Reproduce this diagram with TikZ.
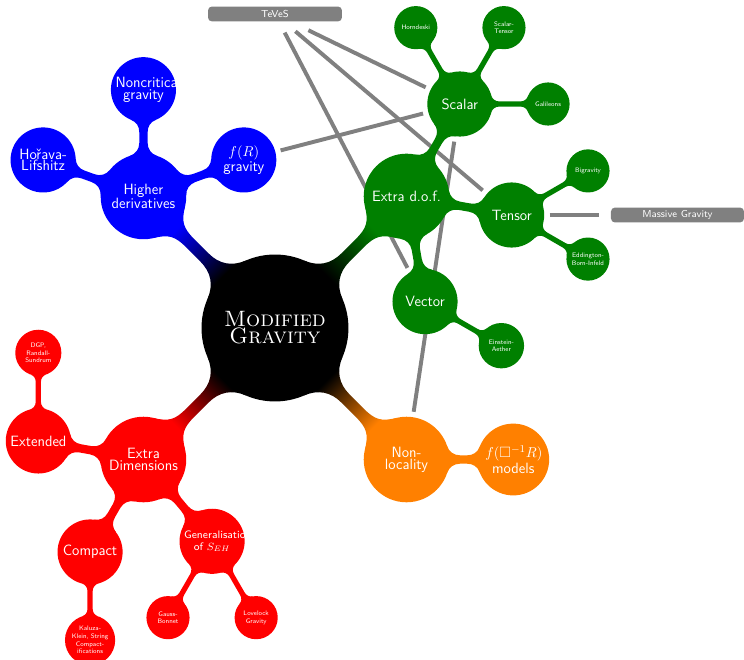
\documentclass[tikz,border=0pt]{standalone}
\usepackage{amssymb}
\usetikzlibrary{calc,backgrounds}
\definecolor{dgreen}{rgb}{0,0.5,0}
\definecolor{orng}{rgb}{1,0.5,0}
\colorlet{barto}{blue}
\pgfdeclareverticalshading[barto]{barshade}{100bp}{color(0bp)=(black); color(32bp)=(black); color(68bp)=(barto); color(100bp)=(barto)}
\tikzset{
  cpt/.style={circle, inner sep=0pt, align=center, text=white, font=\sffamily\fontsize{11.4}{9}\selectfont},
  rootc/.style={cpt, fill=black, minimum size=3.95cm, font=\fontsize{17}{13}\selectfont},
  lone/.style={cpt, minimum size=2.3cm},
  ltwo/.style={cpt, minimum size=1.75cm, text width=1.5cm},
  lthree/.style={cpt, minimum size=1.16cm, font=\sffamily\fontsize{5}{5.8}\selectfont},
  annot/.style={rectangle, rounded corners=3pt, fill=gray, text=white, inner sep=0pt, minimum width=3.6cm, minimum height=0.4cm, outer sep=5pt, font=\sffamily\fontsize{7.7}{9}\selectfont},
  link/.style={draw=gray, line width=3pt, shorten <=4pt, shorten >=4pt},
  rootbar/.style={shade, shading=barshade, shading angle=#1},
}
% connection bar with round fillets: [options]{from}{to}{r from}{r to}{half neck}{fillet radius}
\newcommand\cbar[7][]{%
  \path[#1] let \p1=(#2.center), \p2=(#3.center),
    \n1={atan2(\y2-\y1,\x2-\x1)},
    \n2={asin((#6+#7)/(#4+#7))}, \n3={asin((#6+#7)/(#5+#7))},
    \n4={sqrt((#4+#7)*(#4+#7)-(#6+#7)*(#6+#7))},
    \n5={sqrt((#5+#7)*(#5+#7)-(#6+#7)*(#6+#7))},
    \n6={0.45*#7}
  in ($(\p1)+(\n1+\n2:#4)$)
    .. controls +(\n1+\n2-90:\n6) and +(\n1+180:\n6) .. ($(\p1)+(\n1:\n4)+(\n1+90:#6)$)
    -- ($(\p2)+(\n1+180:\n5)+(\n1+90:#6)$)
    .. controls +(\n1:\n6) and +(\n1-90-\n3:\n6) .. ($(\p2)+(\n1+180-\n3:#5)$)
    -- ($(\p2)+(\n1+180+\n3:#5)$)
    .. controls +(\n1+90+\n3:\n6) and +(\n1:\n6) .. ($(\p2)+(\n1+180:\n5)+(\n1-90:#6)$)
    -- ($(\p1)+(\n1:\n4)+(\n1-90:#6)$)
    .. controls +(\n1+180:\n6) and +(\n1+90-\n2:\n6) .. ($(\p1)+(\n1-\n2:#4)$)
    -- cycle;}
\begin{document}
\begin{tikzpicture}
\useasboundingbox (-7.392,-8.925) rectangle (12.608,8.817);
% root and level 1
\node[rootc] (root) at (0,0) {\textsc{Modified}\\\textsc{Gravity}};
\node[lone, fill=blue] (hd) at (135:5cm) {Higher\\derivatives};
\node[lone, fill=dgreen] (edof) at (45:5cm) {Extra d.o.f.};
\node[lone, fill=red] (ed) at (225:5cm) {Extra\\Dimensions};
\node[lone, fill=orng] (nl) at (315:5cm) {Non-\\locality};
% level 2
\node[ltwo, fill=blue] (hl) at ($(hd)+(160:2.87cm)$) {Hořava-\\Lifshitz};
\node[ltwo, fill=blue] (nc) at ($(hd)+(90:2.87cm)$) {Noncritical\\gravity};
\node[ltwo, fill=blue] (fr) at ($(hd)+(20:2.87cm)$) {$f(R)$\\gravity};
\node[ltwo, fill=dgreen] (scalar) at ($(edof)+(60:2.87cm)$) {Scalar};
\node[ltwo, fill=dgreen] (tensor) at ($(edof)+(-10:2.87cm)$) {Tensor};
\node[ltwo, fill=dgreen] (vector) at ($(edof)+(-80:2.87cm)$) {Vector};
\node[ltwo, fill=red] (ext) at ($(ed)+(170:2.87cm)$) {Extended};
\node[ltwo, fill=red] (comp) at ($(ed)+(240:2.87cm)$) {Compact};
\node[ltwo, fill=red, font=\sffamily\fontsize{8.3}{9}\selectfont] (gen) at ($(ed)+(310:2.87cm)$) {Generalisation\\of $S_{EH}$};
\node[ltwo, fill=orng, minimum size=1.93cm] (fbox) at ($(nl)+(0:2.87cm)$) {$f(\Box^{-1}R)$\\models};
% level 3
\node[lthree, fill=dgreen] (horn) at ($(scalar)+(120:2.37cm)$) {Horndeski};
\node[lthree, fill=dgreen] (st) at ($(scalar)+(60:2.37cm)$) {Scalar-\\Tensor};
\node[lthree, fill=dgreen] (gal) at ($(scalar)+(0:2.37cm)$) {Galileons};
\node[lthree, fill=dgreen] (bigr) at ($(tensor)+(30:2.37cm)$) {Bigravity};
\node[lthree, fill=dgreen] (ebi) at ($(tensor)+(-30:2.37cm)$) {Eddington-\\Born-Infeld};
\node[lthree, fill=dgreen, minimum size=1.22cm] (ea) at ($(vector)+(-30:2.37cm)$) {Einstein-\\Aether};
\node[lthree, fill=red, minimum size=1.24cm] (dgp) at ($(ext)+(90:2.37cm)$) {DGP,\\Randall-\\Sundrum};
\node[lthree, fill=red, minimum size=1.35cm] (kk) at ($(comp)+(270:2.37cm)$) {Kaluza-\\Klein, String\\Compact-\\ifications};
\node[lthree, fill=red] (gb) at ($(gen)+(240:2.37cm)$) {Gauss-\\Bonnet};
\node[lthree, fill=red] (ll) at ($(gen)+(300:2.37cm)$) {Lovelock\\Gravity};
% annotations
\node[annot] (teves) at (0,8.441) {TeVeS};
\node[annot, minimum width=3.575cm] (massive) at ($(tensor)+(4.458,0)$) {Massive Gravity};
\begin{scope}[on background layer]
% annotation links (behind the concepts)
\draw[link] (teves) -- (scalar);
\draw[link] (teves) -- (tensor);
\draw[link] (teves) -- (vector);
\draw[link] (fr) -- (scalar);
\draw[link] (scalar) -- (nl);
\draw[link] (tensor) -- (massive);
% connection bars root -- level 1
\colorlet{barto}{blue}\cbar[rootbar=45]{root}{hd}{1.975cm}{1.15cm}{4.4pt}{26pt}
\colorlet{barto}{dgreen}\cbar[rootbar=-45]{root}{edof}{1.975cm}{1.15cm}{4.4pt}{26pt}
\colorlet{barto}{red}\cbar[rootbar=135]{root}{ed}{1.975cm}{1.15cm}{4.4pt}{26pt}
\colorlet{barto}{orng}\cbar[rootbar=225]{root}{nl}{1.975cm}{1.15cm}{4.4pt}{26pt}
% level 1 -- level 2
\cbar[fill=blue]{hd}{hl}{1.15cm}{0.875cm}{3.2pt}{10.5pt}
\cbar[fill=blue]{hd}{nc}{1.15cm}{0.875cm}{3.2pt}{10.5pt}
\cbar[fill=blue]{hd}{fr}{1.15cm}{0.875cm}{3.2pt}{10.5pt}
\cbar[fill=dgreen]{edof}{scalar}{1.15cm}{0.875cm}{3.2pt}{10.5pt}
\cbar[fill=dgreen]{edof}{tensor}{1.15cm}{0.875cm}{3.2pt}{10.5pt}
\cbar[fill=dgreen]{edof}{vector}{1.15cm}{0.875cm}{3.2pt}{10.5pt}
\cbar[fill=red]{ed}{ext}{1.15cm}{0.875cm}{3.2pt}{10.5pt}
\cbar[fill=red]{ed}{comp}{1.15cm}{0.875cm}{3.2pt}{10.5pt}
\cbar[fill=red]{ed}{gen}{1.15cm}{0.875cm}{3.2pt}{10.5pt}
\cbar[fill=orng]{nl}{fbox}{1.15cm}{0.965cm}{3.2pt}{10.5pt}
% level 2 -- level 3
\cbar[fill=dgreen]{scalar}{horn}{0.875cm}{0.58cm}{2pt}{6pt}
\cbar[fill=dgreen]{scalar}{st}{0.875cm}{0.58cm}{2pt}{6pt}
\cbar[fill=dgreen]{scalar}{gal}{0.875cm}{0.58cm}{2pt}{6pt}
\cbar[fill=dgreen]{tensor}{bigr}{0.875cm}{0.58cm}{2pt}{6pt}
\cbar[fill=dgreen]{tensor}{ebi}{0.875cm}{0.58cm}{2pt}{6pt}
\cbar[fill=dgreen]{vector}{ea}{0.875cm}{0.61cm}{2pt}{6pt}
\cbar[fill=red]{ext}{dgp}{0.875cm}{0.62cm}{2pt}{6pt}
\cbar[fill=red]{comp}{kk}{0.875cm}{0.675cm}{2pt}{6pt}
\cbar[fill=red]{gen}{gb}{0.875cm}{0.58cm}{2pt}{6pt}
\cbar[fill=red]{gen}{ll}{0.875cm}{0.58cm}{2pt}{6pt}
\end{scope}
\end{tikzpicture}
\end{document}
